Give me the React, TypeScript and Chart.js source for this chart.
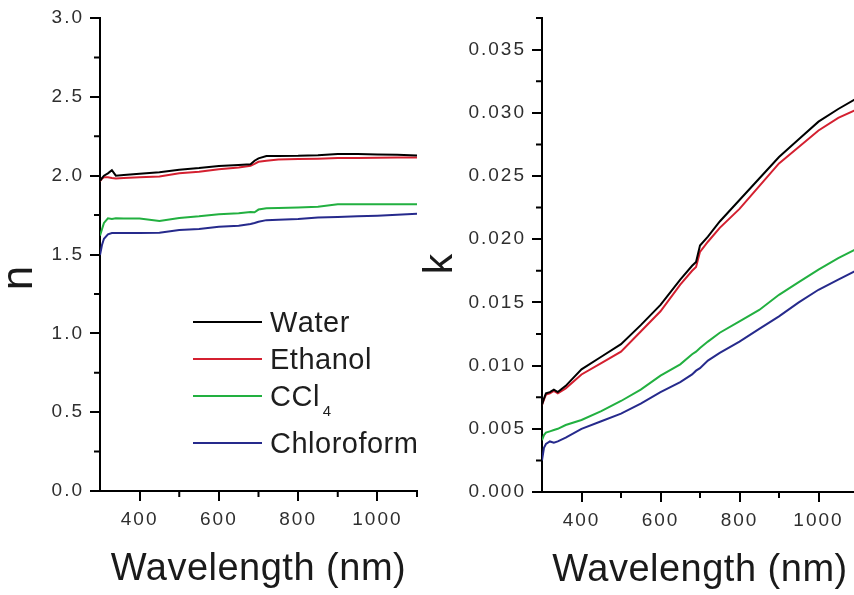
import React, { useEffect, useRef } from "react";
import { Chart, registerables } from "chart.js";

Chart.register(...registerables);

const FONT = "'Liberation Sans', Arial, Helvetica, sans-serif";

// ---------- data ----------
const wavelengths = [300, 305, 310, 320, 330, 340, 360, 400, 450, 500, 550, 600, 650, 680, 690, 700, 720, 750, 800, 850, 900, 950, 1000, 1050, 1100];

const nWater = [1.966, 1.985, 2.0, 2.015, 2.035, 2.0, 2.004, 2.012, 2.022, 2.037, 2.048, 2.062, 2.068, 2.073, 2.095, 2.11, 2.124, 2.125, 2.126, 2.13, 2.137, 2.137, 2.135, 2.133, 2.128];
const nEthanol = [1.966, 1.98, 1.99, 1.99, 1.985, 1.982, 1.985, 1.99, 1.995, 2.015, 2.025, 2.04, 2.052, 2.063, 2.075, 2.088, 2.095, 2.103, 2.106, 2.108, 2.112, 2.112, 2.114, 2.115, 2.116];
const nCCl4 = [1.62, 1.66, 1.7, 1.73, 1.725, 1.73, 1.728, 1.728, 1.712, 1.732, 1.742, 1.756, 1.762, 1.77, 1.768, 1.785, 1.793, 1.795, 1.798, 1.803, 1.818, 1.818, 1.818, 1.818, 1.818];
const nChloroform = [1.497, 1.56, 1.6, 1.628, 1.636, 1.636, 1.636, 1.637, 1.638, 1.655, 1.662, 1.676, 1.682, 1.693, 1.7, 1.708, 1.718, 1.72, 1.725, 1.735, 1.738, 1.742, 1.746, 1.752, 1.758];

const kWater = [0.0069, 0.0074, 0.0078, 0.0079, 0.0081, 0.0079, 0.0084, 0.0097, 0.0107, 0.0117, 0.0132, 0.0148, 0.0168, 0.0179, 0.0182, 0.0195, 0.0202, 0.0214, 0.0231, 0.0248, 0.0265, 0.0279, 0.0293, 0.0303, 0.0312];
const kEthanol = [0.0069, 0.0073, 0.0077, 0.0078, 0.008, 0.0078, 0.0082, 0.0093, 0.0102, 0.0111, 0.0127, 0.0143, 0.0164, 0.0175, 0.0178, 0.019, 0.0198, 0.0209, 0.0224, 0.0242, 0.026, 0.0273, 0.0286, 0.0296, 0.0303];
const kCCl4 = [0.0041, 0.0045, 0.0047, 0.0048, 0.0049, 0.005, 0.0053, 0.0057, 0.0064, 0.0072, 0.0081, 0.0092, 0.0101, 0.0109, 0.0111, 0.0114, 0.0119, 0.0126, 0.0135, 0.0144, 0.0156, 0.0166, 0.0176, 0.0185, 0.0193];
const kChloroform = [0.0025, 0.0035, 0.0038, 0.004, 0.0039, 0.004, 0.0043, 0.005, 0.0056, 0.0062, 0.007, 0.0079, 0.0087, 0.0093, 0.0096, 0.0098, 0.0104, 0.011, 0.0119, 0.0129, 0.0139, 0.015, 0.016, 0.0168, 0.0176];

const seriesLabels = ["Water", "Ethanol", "CCl₄", "Chloroform"];
const seriesColors = ["#000000", "#d42030", "#22b040", "#262a8c"];

const xMajorTicks = [400, 600, 800, 1000];
const xMinorTicks = [500, 700, 900, 1100];
const nMajorTicks = [0, 0.5, 1.0, 1.5, 2.0, 2.5, 3.0];
const nMinorTicks = [0.25, 0.75, 1.25, 1.75, 2.25, 2.75];
const kMajorTicks = [0, 0.005, 0.01, 0.015, 0.02, 0.025, 0.03, 0.035];
const kMinorTicks = [0.0025, 0.0075, 0.0125, 0.0175, 0.0225, 0.0275, 0.0325, 0.0375];

const xTitle = "Wavelength (nm)";
const nTitle = "n";
const kTitle = "k";

// legend row centre lines (style)
const LEGEND_ROWS = [322, 359, 396, 443];

function toPoints(values: number[]) {
  return wavelengths.map((w, i) => ({ x: w, y: values[i] }));
}

function drawRichLabel(ctx: CanvasRenderingContext2D, text: string, x: number, y: number, size: number) {
  const subs = "₀₁₂₃₄₅₆₇₈₉";
  let cx = x;
  for (const ch of Array.from(text)) {
    const si = subs.indexOf(ch);
    if (si >= 0) {
      ctx.font = `${Math.round(size * 0.52)}px ${FONT}`;
      const t = String(si);
      ctx.fillText(t, cx + 3, y + 10);
      cx += ctx.measureText(t).width + 3;
    } else {
      ctx.font = `${size}px ${FONT}`;
      ctx.fillText(ch, cx, y);
      cx += ctx.measureText(ch).width;
    }
  }
}

function makeDecor(o: {
  xMinor: number[];
  yMinor: number[];
  xTitleBaseline: number;
  yTitle: string;
  yTitleX: number;
  yTitleY: number;
  yTitleSize: number;
}) {
  return {
    id: "decor",
    beforeDraw(chart: any) {
      chart.ctx.letterSpacing = "2px";
    },
    afterDraw(chart: any) {
      const ctx = chart.ctx as CanvasRenderingContext2D;
      const { left, right, bottom } = chart.chartArea;
      const xs = chart.scales.x;
      const ys = chart.scales.y;
      ctx.save();
      ctx.strokeStyle = "#000";
      ctx.lineWidth = 2;
      ctx.beginPath();
      o.xMinor.forEach((v) => {
        const px = xs.getPixelForValue(v);
        ctx.moveTo(px, bottom);
        ctx.lineTo(px, bottom + 6);
      });
      o.yMinor.forEach((v) => {
        const py = ys.getPixelForValue(v);
        ctx.moveTo(left, py);
        ctx.lineTo(left - 6, py);
      });
      ctx.stroke();

      (ctx as any).letterSpacing = "0.5px";
      ctx.fillStyle = "#1a1a1a";
      ctx.textAlign = "center";
      ctx.textBaseline = "alphabetic";
      ctx.font = `38px ${FONT}`;
      ctx.fillText(xTitle, (left + right) / 2, o.xTitleBaseline);

      (ctx as any).letterSpacing = "0px";
      ctx.save();
      ctx.translate(o.yTitleX, o.yTitleY);
      ctx.rotate(-Math.PI / 2);
      ctx.font = `${o.yTitleSize}px ${FONT}`;
      ctx.fillText(o.yTitle, 0, 0);
      ctx.restore();
      ctx.restore();
    },
  };
}

const legendPlugin = {
  id: "inlineLegend",
  afterDraw(chart: any) {
    const ctx = chart.ctx as CanvasRenderingContext2D;
    ctx.save();
    (ctx as any).letterSpacing = "0.5px";
    ctx.textAlign = "left";
    ctx.textBaseline = "alphabetic";
    ctx.fillStyle = "#1e1e1e";
    chart.data.datasets.forEach((ds: any, i: number) => {
      const yc = LEGEND_ROWS[i];
      ctx.strokeStyle = ds.borderColor;
      ctx.lineWidth = 2;
      ctx.beginPath();
      ctx.moveTo(193, yc);
      ctx.lineTo(262, yc);
      ctx.stroke();
      drawRichLabel(ctx, ds.label, 270, yc + 10, 29);
    });
    ctx.restore();
  },
};

function buildConfig(p: {
  series: number[][];
  yMax: number;
  yMajor: number[];
  yDigits: number;
  yWidth: number;
  xHeight: number;
  padRight: number;
  decor: any;
  legend: boolean;
}) {
  const tickFont = { family: FONT, size: 19 };
  return {
    type: "line",
    data: {
      datasets: p.series.map((vals, i) => ({
        label: seriesLabels[i],
        data: toPoints(vals),
        borderColor: seriesColors[i],
        backgroundColor: seriesColors[i],
        borderWidth: 2,
        pointRadius: 0,
        tension: 0,
        fill: false,
      })),
    },
    options: {
      responsive: false,
      animation: false,
      devicePixelRatio: 1,
      layout: { padding: { left: 0, right: p.padRight, top: 18, bottom: 0 } },
      plugins: { legend: { display: false }, tooltip: { enabled: false } },
      scales: {
        x: {
          type: "linear",
          min: 300,
          max: 1100,
          afterBuildTicks: (s: any) => {
            s.ticks = xMajorTicks.map((v) => ({ value: v }));
          },
          afterFit: (s: any) => {
            s.height = p.xHeight;
            s.paddingLeft = 0;
            s.paddingRight = 0;
          },
          grid: { display: true, drawOnChartArea: false, drawTicks: true, tickLength: 10, lineWidth: 2, color: "#000" },
          border: { display: true, color: "#000", width: 2 },
          ticks: {
            font: tickFont,
            color: "#2e2e2e",
            padding: 7,
            maxRotation: 0,
            autoSkip: false,
            callback: (v: any) => String(v),
          },
        },
        y: {
          type: "linear",
          min: 0,
          max: p.yMax,
          afterBuildTicks: (s: any) => {
            s.ticks = p.yMajor.map((v) => ({ value: v }));
          },
          afterFit: (s: any) => {
            s.width = p.yWidth;
            s.paddingTop = 0;
            s.paddingBottom = 0;
          },
          grid: { display: true, drawOnChartArea: false, drawTicks: true, tickLength: 10, lineWidth: 2, color: "#000" },
          border: { display: true, color: "#000", width: 2 },
          ticks: {
            font: tickFont,
            color: "#2e2e2e",
            padding: 6,
            autoSkip: false,
            callback: (v: any) => Number(v).toFixed(p.yDigits),
          },
        },
      },
    },
    plugins: p.legend ? [p.decor, legendPlugin] : [p.decor],
  };
}

export default function App() {
  const leftRef = useRef<HTMLCanvasElement | null>(null);
  const rightRef = useRef<HTMLCanvasElement | null>(null);

  useEffect(() => {
    const left = new Chart(
      leftRef.current as HTMLCanvasElement,
      buildConfig({
        series: [nWater, nEthanol, nCCl4, nChloroform],
        yMax: 3.0,
        yMajor: nMajorTicks,
        yDigits: 1,
        yWidth: 100,
        xHeight: 104,
        padRight: 3,
        legend: true,
        decor: makeDecor({
          xMinor: xMinorTicks,
          yMinor: nMinorTicks,
          xTitleBaseline: 580,
          yTitle: nTitle,
          yTitleX: 32,
          yTitleY: 278,
          yTitleSize: 44,
        }),
      }) as any
    );
    const right = new Chart(
      rightRef.current as HTMLCanvasElement,
      buildConfig({
        series: [kWater, kEthanol, kCCl4, kChloroform],
        yMax: 0.0375,
        yMajor: kMajorTicks,
        yDigits: 3,
        yWidth: 122,
        xHeight: 103,
        padRight: 12,
        legend: false,
        decor: makeDecor({
          xMinor: xMinorTicks,
          yMinor: kMinorTicks,
          xTitleBaseline: 581,
          yTitle: kTitle,
          yTitleX: 32,
          yTitleY: 264,
          yTitleSize: 41,
        }),
      }) as any
    );
    return () => {
      left.destroy();
      right.destroy();
    };
  }, []);

  return (
    <div
      style={{
        position: "fixed",
        left: 0,
        top: 0,
        width: 854,
        height: 595,
        overflow: "hidden",
        background: "#ffffff",
      }}
    >
      <canvas
        ref={leftRef}
        width={420}
        height={595}
        style={{ position: "absolute", left: 0, top: 0, width: 420, height: 595 }}
      />
      <canvas
        ref={rightRef}
        width={450}
        height={595}
        style={{ position: "absolute", left: 420, top: 0, width: 450, height: 595 }}
      />
    </div>
  );
}
